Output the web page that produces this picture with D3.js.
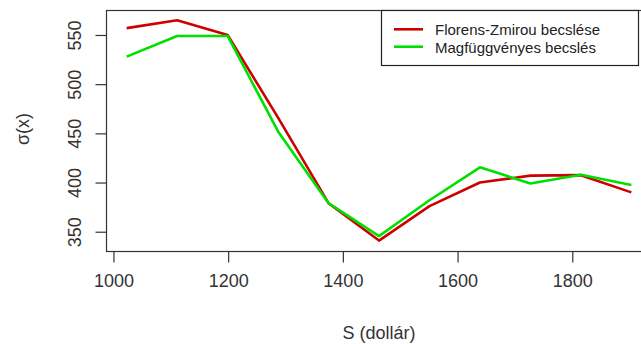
<!DOCTYPE html>
<html>
<head>
<meta charset="utf-8">
<script src="https://cdn.jsdelivr.net/npm/d3@7"></script>
<style>
  html, body { margin: 0; padding: 0; background: #fff; }
  svg { display: block; font-family: "Liberation Sans", Arial, sans-serif; }
</style>
</head>
<body>
<div id="chart"></div>
<script>
// S values (dollár), one per estimate point
const sValues = [1023, 1111, 1199, 1287, 1375, 1463, 1551, 1639, 1727, 1815, 1903];

// Florens-Zmirou estimate
const florensValues = [557, 565, 550, 466, 379, 341, 376, 400, 407, 407.5, 390];

// kernel (Magfüggvényes) estimate
const kernelValues = [528, 549, 549, 452, 379, 345.5, 382, 415.5, 399, 408, 397.5];

const xTicks = [1000, 1200, 1400, 1600, 1800];
const yTicks = [350, 400, 450, 500, 550];

const seriesNames = ["Florens-Zmirou becslése", "Magfüggvényes becslés"];
const seriesColors = ["#CD0000", "#00E000"];

(function () {
  const W = 641, H = 344;
  const box = { left: 106, top: 10, right: 652, bottom: 251 };

  const svg = d3.select("#chart").append("svg")
    .attr("width", W)
    .attr("height", H);

  const x = d3.scaleLinear().domain([987, 1939]).range([box.left, box.right]);
  const y = d3.scaleLinear().domain([330.4, 575.4]).range([box.bottom, box.top]);

  // clip so lines stay inside the plot box
  svg.append("clipPath").attr("id", "plot-clip")
    .append("rect")
    .attr("x", box.left).attr("y", box.top)
    .attr("width", box.right - box.left).attr("height", box.bottom - box.top);

  const line = d3.line()
    .x(d => x(d[0]))
    .y(d => y(d[1]));

  const series = [florensValues, kernelValues];
  series.forEach((vals, i) => {
    svg.append("path")
      .datum(sValues.map((s, j) => [s, vals[j]]))
      .attr("clip-path", "url(#plot-clip)")
      .attr("fill", "none")
      .attr("stroke", seriesColors[i])
      .attr("stroke-width", 2.6)
      .attr("stroke-linejoin", "round")
      .attr("d", line);
  });

  // plot frame
  svg.append("rect")
    .attr("x", box.left + 0.5).attr("y", box.top + 0.5)
    .attr("width", box.right - box.left).attr("height", box.bottom - box.top)
    .attr("fill", "none")
    .attr("stroke", "#333")
    .attr("stroke-width", 1.2);

  // x axis (R style ticks, labels below)
  const xAxis = svg.append("g")
    .attr("transform", `translate(0,${box.bottom + 0.5})`)
    .call(d3.axisBottom(x).tickValues(xTicks).tickSize(11).tickPadding(12).tickFormat(d3.format("d")));
  xAxis.select(".domain").remove();
  xAxis.selectAll("line").attr("stroke", "#333").attr("stroke-width", 1.2);
  xAxis.selectAll("text")
    .attr("fill", "#333")
    .style("font-size", "18px");

  // y axis, labels rotated as in R (las = 0)
  const yAxis = svg.append("g")
    .attr("transform", `translate(${box.left + 0.5},0)`)
    .call(d3.axisLeft(y).tickValues(yTicks).tickSize(11).tickFormat(d3.format("d")));
  yAxis.select(".domain").remove();
  yAxis.selectAll("line").attr("stroke", "#333").attr("stroke-width", 1.2);
  yAxis.selectAll("text")
    .attr("x", null).attr("dy", null)
    .attr("fill", "#333")
    .attr("text-anchor", "middle")
    .attr("transform", "translate(-26,0) rotate(-90)")
    .style("font-size", "18px");

  // axis titles
  svg.append("text")
    .attr("x", (box.left + box.right) / 2)
    .attr("y", 339)
    .attr("text-anchor", "middle")
    .attr("fill", "#333")
    .style("font-size", "18px")
    .text("S (dollár)");

  svg.append("text")
    .attr("transform", `translate(29,${129}) rotate(-90)`)
    .attr("text-anchor", "middle")
    .attr("fill", "#333")
    .style("font-size", "18px")
    .text("σ(x)");

  // legend
  const legend = svg.append("g");
  legend.append("rect")
    .attr("x", 381.5).attr("y", 10.5)
    .attr("width", 257).attr("height", 55)
    .attr("fill", "#fff")
    .attr("stroke", "#222")
    .attr("stroke-width", 1.2);

  seriesNames.forEach((name, i) => {
    const ly = 29.3 + i * 17.4;
    legend.append("line")
      .attr("x1", 394).attr("x2", 423)
      .attr("y1", ly).attr("y2", ly)
      .attr("stroke", seriesColors[i])
      .attr("stroke-width", 2.6);
    legend.append("text")
      .attr("x", 435)
      .attr("y", ly + 6)
      .attr("fill", "#222")
      .style("font-size", "15px")
      .text(name);
  });
})();
</script>
</body>
</html>
